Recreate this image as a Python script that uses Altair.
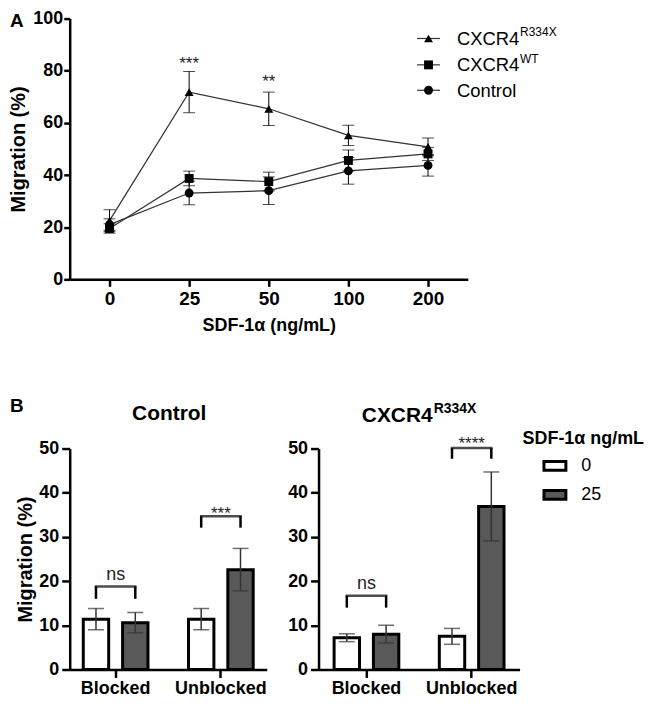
import altair as alt
import pandas as pd

FONT = "Liberation Sans"

# ---------------- Panel A data ----------------
conc = ["0", "25", "50", "100", "200"]
series = ["CXCR4R334X", "CXCR4WT", "Control"]
shapes = ["triangle-up", "square", "circle"]
r334x_mean = [22.5, 71.8, 65.4, 55.2, 50.8]
r334x_err = [4.2, 7.9, 6.4, 3.9, 3.4]
wt_mean = [19.5, 38.7, 37.5, 45.6, 48.1]
wt_err = [1.8, 2.8, 3.6, 4.0, 2.5]
ctrl_mean = [21.0, 33.1, 34.0, 41.6, 43.7]
ctrl_err = [2.2, 4.5, 5.3, 5.1, 4.1]
star_conc = ["25", "50"]
star_text = ["***", "**"]
star_y = [80.7, 73.9]

# ---------------- Panel B data ----------------
groups = ["Blocked", "Unblocked"]
doses = ["0", "25"]
ctrlB_mean = [11.4, 10.6, 11.4, 22.6]
ctrlB_err = [2.4, 2.3, 2.4, 4.8]
r334B_mean = [7.2, 8.0, 7.5, 36.9]
r334B_err = [0.9, 2.0, 1.8, 7.8]
ctrlB_sig = ["ns", "***"]
ctrlB_bracket = [18.8, 34.7]
ctrlB_leg = [16.0, 32.1]
ctrlB_sig_y = [20.3, 34.0]
r334B_sig = ["ns", "****"]
r334B_bracket = [16.7, 50.1]
r334B_leg = [14.0, 47.7]
r334B_sig_y = [18.2, 49.8]

# ================= Panel A =================
WA, HA = 400, 262
dfA = pd.DataFrame({
    "conc": conc * 3,
    "series": [s for s in series for _ in conc],
    "mean": r334x_mean + wt_mean + ctrl_mean,
    "err": r334x_err + wt_err + ctrl_err,
})
dfA["lo"] = dfA["mean"] - dfA["err"]
dfA["hi"] = dfA["mean"] + dfA["err"]
dfStar = pd.DataFrame({"conc": star_conc, "y": star_y, "t": star_text})


def xA():
    return alt.X("conc:O", sort=conc, scale=alt.Scale(type="point", padding=0.5),
                 axis=alt.Axis(title="SDF-1α (ng/mL)", labelAngle=0, tickSize=7,
                               labelPadding=3, titlePadding=8, titleFontSize=18,
                               labelFontSize=19))


def yA(field):
    return alt.Y(field, type="quantitative",
                 scale=alt.Scale(domain=[0, 100], nice=False),
                 axis=alt.Axis(title="Migration (%)", values=[0, 20, 40, 60, 80, 100],
                               tickSize=6, labelPadding=1, titlePadding=4))


baseA = alt.Chart(dfA)
lineA = baseA.mark_line(color="#333333", strokeWidth=1.2).encode(
    x=xA(), y=yA("mean"), detail="series:N")
errA = baseA.mark_rule(color="black", strokeWidth=1).encode(
    x=xA(), y=yA("lo"), y2="hi")
capHiA = baseA.mark_tick(orient="horizontal", size=12, thickness=1, color="black").encode(
    x=xA(), y=yA("hi"))
capLoA = baseA.mark_tick(orient="horizontal", size=12, thickness=1, color="black").encode(
    x=xA(), y=yA("lo"))
ptsA = baseA.mark_point(filled=True, color="black", size=80, opacity=1).encode(
    x=xA(), y=yA("mean"),
    shape=alt.Shape("series:N", scale=alt.Scale(domain=series, range=shapes), legend=None))
starsA = alt.Chart(dfStar).mark_text(fontSize=17, baseline="alphabetic", color="#222").encode(
    x=xA(), y=yA("y"), text="t:N")

one = pd.DataFrame({"k": [0]})
letterA = alt.Chart(one).mark_text(text="A", fontSize=19, fontWeight="bold", align="left",
                                   baseline="alphabetic", color="black").encode(
    x=alt.value(-60), y=alt.value(8))

legA = []
rowY = [20, 46.5, 72]
mains = ["CXCR4", "CXCR4", "Control"]
sups = ["R334X", "WT", ""]
for i in range(3):
    legA.append(alt.Chart(one).mark_rule(color="#333333", strokeWidth=1.2).encode(
        x=alt.value(349), x2=alt.value(372), y=alt.value(rowY[i])))
    legA.append(alt.Chart(one).mark_point(shape=shapes[i], filled=True, color="black",
                                          size=80, opacity=1).encode(
        x=alt.value(360.5), y=alt.value(rowY[i])))
    legA.append(alt.Chart(one).mark_text(text=mains[i], fontSize=18.5, align="left",
                                         baseline="alphabetic", color="black").encode(
        x=alt.value(389), y=alt.value(rowY[i] + 6.5)))
    if sups[i]:
        legA.append(alt.Chart(one).mark_text(text=sups[i], fontSize=12, align="left",
                                             baseline="alphabetic", color="black").encode(
            x=alt.value(452.5), y=alt.value(rowY[i] - 2)))

panelA = alt.layer(lineA, errA, capHiA, capLoA, ptsA, starsA, letterA, *legA).properties(
    width=WA, height=HA)

# ================= Panel B =================
HB = 222


def panelB(means, errs, sig, bracket, leg, sig_y, width, pouter, ytitle, legend,
           letter, title_main, title_sup, title_center):
    df = pd.DataFrame({
        "group": [g for g in groups for _ in doses],
        "dose": doses * 2,
        "mean": means,
        "err": errs,
    })
    df["lo"] = df["mean"] - df["err"]
    df["hi"] = df["mean"] + df["err"]
    dfBr = pd.DataFrame({
        "group": [g for g in groups for _ in doses],
        "dose": doses * 2,
        "bracket": [b for b in bracket for _ in doses],
        "leg": [l for l in leg for _ in doses],
    })
    dfSig = pd.DataFrame({"group": groups, "sig": sig, "y": sig_y, "bracket": bracket})

    def xB():
        return alt.X("group:N", sort=groups,
                     scale=alt.Scale(type="band", paddingInner=0.385, paddingOuter=pouter),
                     axis=alt.Axis(title=None, labelAngle=0, tickSize=8, labelPadding=2))

    def xo():
        return alt.XOffset("dose:N", sort=doses,
                           scale=alt.Scale(paddingInner=0.354, paddingOuter=0))

    def yB(field):
        return alt.Y(field, type="quantitative",
                     scale=alt.Scale(domain=[0, 50], nice=False),
                     axis=alt.Axis(title=ytitle, values=[0, 10, 20, 30, 40, 50],
                                   tickSize=8, labelPadding=3, titlePadding=3))

    fill_kwargs = dict(sort=doses, scale=alt.Scale(domain=doses, range=["white", "#595959"]))
    if legend:
        fill = alt.Fill("dose:N", legend=alt.Legend(
            title="SDF-1α ng/mL", orient="none", legendX=205, legendY=-19,
            titleFont=FONT, titleFontSize=18, titleFontWeight="bold", titleColor="black",
            titlePadding=6, labelFont=FONT, labelFontSize=18, labelColor="black",
            symbolType="M-1,-0.4H1V0.4H-1Z", symbolSize=484, symbolStrokeWidth=3,
            symbolStrokeColor="black", symbolOffset=20, labelOffset=14, rowPadding=6,
            padding=0), **fill_kwargs)
    else:
        fill = alt.Fill("dose:N", legend=None, **fill_kwargs)

    base = alt.Chart(df)
    bars = base.mark_bar(stroke="black", strokeWidth=3).encode(
        x=xB(), xOffset=xo(), y=yB("mean"), fill=fill)
    err = base.mark_rule(color="#333333", strokeWidth=1.5).encode(
        x=xB(), xOffset=xo(), y=yB("lo"), y2="hi")
    capHi = base.mark_tick(orient="horizontal", size=16, thickness=1.5, color="#333333").encode(
        x=xB(), xOffset=xo(), y=yB("hi"))
    capLo = base.mark_tick(orient="horizontal", size=16, thickness=1.5, color="#333333").encode(
        x=xB(), xOffset=xo(), y=yB("lo"))
    legs = alt.Chart(dfBr).mark_rule(color="black", strokeWidth=2.5).encode(
        x=xB(), xOffset=xo(), y=yB("leg"), y2="bracket")
    top = alt.Chart(dfSig).mark_tick(orient="horizontal", size=42, thickness=2.5,
                                     color="black").encode(x=xB(), y=yB("bracket"))
    sigs = []
    for i in range(len(groups)):
        fs = 18 if sig[i] == "ns" else 17
        sigs.append(alt.Chart(dfSig.iloc[[i]]).mark_text(
            fontSize=fs, baseline="alphabetic", color="#222").encode(
            x=xB(), y=yB("y"), text="sig:N"))

    layers = [bars, err, capHi, capLo, legs, top, *sigs]
    if letter:
        layers.append(alt.Chart(one).mark_text(text=letter, fontSize=19, fontWeight="bold",
                                               align="left", baseline="alphabetic",
                                               color="black").encode(
            x=alt.value(-60), y=alt.value(-37)))
    if title_sup:
        wmain = 3.389 * 21
        wsup = 3.057 * 14
        x0 = title_center - (wmain + 1 + wsup) / 2
        layers.append(alt.Chart(one).mark_text(text=title_main, fontSize=21, fontWeight="bold",
                                               align="left", baseline="alphabetic",
                                               color="black").encode(
            x=alt.value(x0), y=alt.value(-27)))
        layers.append(alt.Chart(one).mark_text(text=title_sup, fontSize=14, fontWeight="bold",
                                               align="left", baseline="alphabetic",
                                               color="black").encode(
            x=alt.value(x0 + wmain + 1), y=alt.value(-36)))
    else:
        layers.append(alt.Chart(one).mark_text(text=title_main, fontSize=21, fontWeight="bold",
                                               align="center", baseline="alphabetic",
                                               color="black").encode(
            x=alt.value(title_center), y=alt.value(-29)))
    return alt.layer(*layers).properties(width=width, height=HB)


B1 = panelB(ctrlB_mean, ctrlB_err, ctrlB_sig, ctrlB_bracket, ctrlB_leg, ctrlB_sig_y,
            198, 0.129, "Migration (%)", False, "B", "Control", "", 100)
B2 = panelB(r334B_mean, r334B_err, r334B_sig, r334B_bracket, r334B_leg, r334B_sig_y,
            202, 0.148, None, True, None, "CXCR4", "R334X", 101)

rowB = alt.hconcat(B1, B2, spacing=52, bounds="flush").resolve_scale(fill="independent")

chart = alt.vconcat(panelA, rowB, spacing=170, bounds="flush").properties(
    padding=0
).configure(font=FONT).configure_view(strokeWidth=0).configure_axis(
    domainColor="black", domainWidth=2.5, tickColor="black", tickWidth=2.5,
    labelColor="black", titleColor="black", labelFont=FONT, titleFont=FONT,
    labelFontSize=18, labelFontWeight="bold", titleFontSize=20, titleFontWeight="bold",
    grid=False)

chart.save("out.html", embed_options={"renderer": "svg", "actions": False})
